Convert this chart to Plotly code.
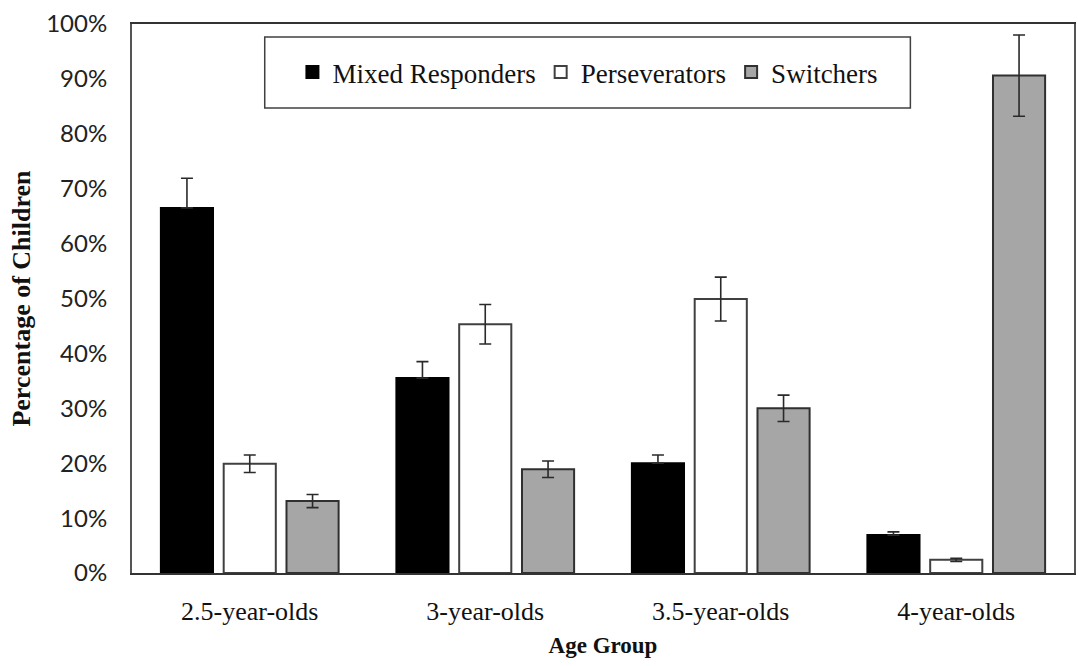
import plotly.graph_objects as go

# Age groups on the x axis
age_groups = ["2.5-year-olds", "3-year-olds", "3.5-year-olds", "4-year-olds"]

# Percentage of children per response type, with standard errors
mixed = [66.5, 35.5, 20.0, 6.9]
mixed_err = [5.4, 3.0, 1.5, 0.6]
persev = [19.9, 45.3, 49.9, 2.4]
persev_err = [1.6, 3.6, 4.0, 0.3]
switch = [13.1, 18.9, 30.0, 90.6]
switch_err = [1.2, 1.5, 2.4, 7.4]

series_names = ["Mixed Responders", "Perseverators", "Switchers"]
y_ticks = list(range(0, 101, 10))
y_tick_text = [f"{v}%" for v in y_ticks]

SERIF = "Liberation Serif"
SANS = "Lato"

fills = ["#000000", "#ffffff", "#a6a6a6"]
edges = ["#000000", "#404040", "#303030"]
# whisker below the bar top is hidden inside the solid black bars
lower_shown = [False, True, True]

fig = go.Figure()
for name, vals, errs, fill, edge, low in zip(
    series_names, [mixed, persev, switch], [mixed_err, persev_err, switch_err],
    fills, edges, lower_shown,
):
    fig.add_trace(
        go.Bar(
            name=name,
            x=age_groups,
            y=vals,
            marker=dict(color=fill, line=dict(color=edge, width=2)),
            error_y=dict(type="data", symmetric=False, array=errs,
                         arrayminus=errs if low else [0] * len(errs), visible=True,
                         color="#2a2a2a", thickness=1.6, width=6),
        )
    )

# framed legend box drawn behind the horizontal legend
fig.add_shape(
    type="rect", xref="paper", yref="paper",
    x0=0.1409, x1=0.8263, y0=0.847, y1=0.9763,
    line=dict(color="#404040", width=1.5), fillcolor="white", layer="below",
)

fig.update_layout(
    width=1078, height=666, autosize=False,
    margin=dict(l=132, r=2, t=24, b=93),
    paper_bgcolor="white", plot_bgcolor="white",
    font=dict(family=SERIF, color="#111111"),
    barmode="group", bargap=0.2, bargroupgap=0.17,
    showlegend=True,
    legend=dict(
        orientation="h", x=0.484, y=0.9117, xanchor="center", yanchor="middle",
        font=dict(family=SERIF, size=27, color="#111111"),
        bgcolor="rgba(0,0,0,0)", borderwidth=0, itemclick=False,
        itemwidth=30, tracegroupgap=0,
    ),
    xaxis=dict(
        showline=True, linecolor="#333333", linewidth=2, mirror=True,
        ticks="", tickfont=dict(family=SERIF, size=26, color="#111111"),
        ticklabelstandoff=14,
        title=dict(text="Age Group", font=dict(family=SERIF, size=23, color="#111111", weight="bold"),
                   standoff=12),
    ),
    yaxis=dict(
        range=[0, 100], tickmode="array", tickvals=y_ticks, ticktext=y_tick_text,
        showline=True, linecolor="#555555", linewidth=2, mirror=True,
        showgrid=False, zeroline=False, ticks="",
        tickfont=dict(family=SANS, size=24, color="#222222"),
        ticklabelstandoff=18,
        title=dict(text="Percentage of Children",
                   font=dict(family=SERIF, size=26, color="#111111", weight="bold"),
                   standoff=8),
    ),
)

fig.write_html("out.html")
